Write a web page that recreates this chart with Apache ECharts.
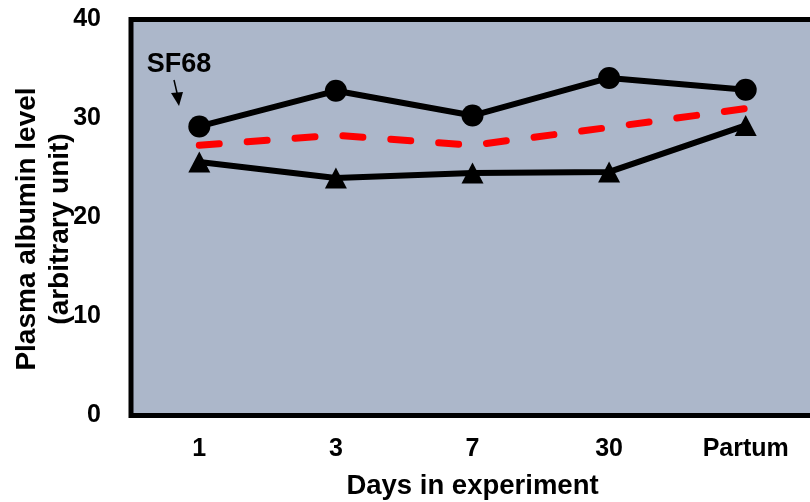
<!DOCTYPE html>
<html>
<head>
<meta charset="utf-8">
<script src="https://cdn.jsdelivr.net/npm/echarts@6/dist/echarts.min.js"></script>
<style>html,body{margin:0;padding:0;background:#fff;}#c{width:810px;height:502px;}</style>
</head>
<body>
<div id="c"></div>
<script>
var categories = ['1', '3', '7', '30', 'Partum'];
var circleSeries = [29.2, 32.8, 30.3, 34.1, 32.9];
var triangleSeries = [25.6, 24.0, 24.5, 24.6, 29.3];
var dashedSeries = [27.3, 28.3, 27.3, 29.1, 31.0];
var yTicks = [0, 10, 20, 30, 40];

var FONT = '"Liberation Sans", Arial, sans-serif';
var chart = echarts.init(document.getElementById('c'), null, {renderer: 'canvas'});
chart.setOption({
  animation: false,
  grid: {
    left: 131, top: 19.5, width: 683, height: 396,
    outerBoundsMode: 'none', containLabel: false,
    show: true, backgroundColor: '#acb7ca', borderColor: '#000', borderWidth: 5
  },
  xAxis: {
    type: 'category', data: categories, boundaryGap: true,
    axisLine: {show: false}, axisTick: {show: false}, splitLine: {show: false},
    axisLabel: {fontFamily: FONT, fontWeight: 'bold', fontSize: 25, color: '#000', margin: 21},
    name: 'Days in experiment', nameLocation: 'middle', nameGap: 57,
    nameTextStyle: {fontFamily: FONT, fontWeight: 'bold', fontSize: 27.5, color: '#000'}
  },
  yAxis: {
    type: 'value', min: yTicks[0], max: yTicks[yTicks.length - 1], interval: 10,
    axisLine: {show: false}, axisTick: {show: false}, splitLine: {show: false},
    axisLabel: {fontFamily: FONT, fontWeight: 'bold', fontSize: 25, color: '#000', margin: 30}
  },
  graphic: [
    {type: 'text', x: 44, y: 229, rotation: Math.PI / 2,
      style: {text: 'Plasma albumin level\n(arbitrary unit)', font: 'bold 28px ' + FONT,
        fill: '#000', textAlign: 'center', textVerticalAlign: 'middle', lineHeight: 33}},
    {type: 'text', x: 179, y: 65,
      style: {text: 'SF68', font: 'bold 27px ' + FONT, fill: '#000', textAlign: 'center', textVerticalAlign: 'middle'}},
    {type: 'line', shape: {x1: 174, y1: 80, x2: 177.5, y2: 95}, style: {stroke: '#000', lineWidth: 1.5}},
    {type: 'polygon', shape: {points: [[171, 93], [183, 92], [179, 106]]}, style: {fill: '#000'}}
  ],
  series: [
    {type: 'line', data: dashedSeries, symbol: 'none', z: 3,
      lineStyle: {color: '#ff0000', width: 7, type: [20, 28], cap: 'round'}},
    {type: 'line', data: circleSeries, symbol: 'circle', symbolSize: 22, z: 4,
      itemStyle: {color: '#000'}, lineStyle: {color: '#000', width: 6}},
    {type: 'line', data: triangleSeries, symbol: 'triangle', symbolSize: [22, 21], z: 4,
      itemStyle: {color: '#000'}, lineStyle: {color: '#000', width: 6}}
  ]
});
</script>
</body>
</html>
